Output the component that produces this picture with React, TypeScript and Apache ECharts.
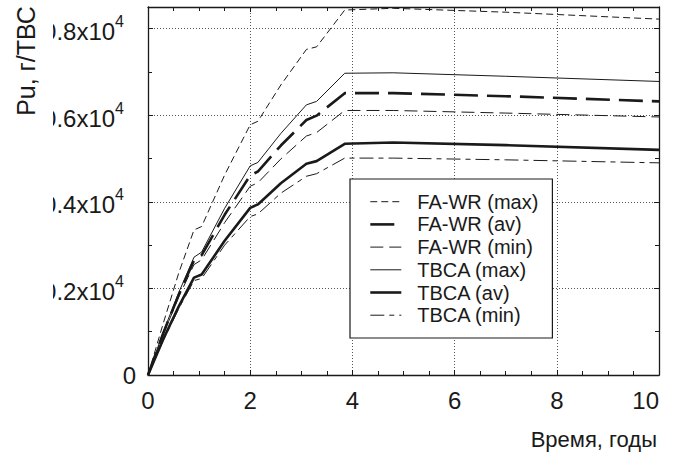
import React, { useEffect, useRef } from 'react';
import * as echarts from 'echarts';

// Time, years
const years = [0, 0.3, 0.6, 0.9, 1.05, 1.5, 2.0, 2.15, 2.6, 3.1, 3.3, 3.85, 4.8, 7, 10];
// Pu, x10^4 g per assembly
const faWrMax = [0, 0.12, 0.235, 0.335, 0.343, 0.462, 0.578, 0.586, 0.67, 0.752, 0.758, 0.843, 0.847, 0.838, 0.822];
const faWrAv = [0, 0.097, 0.185, 0.265, 0.277, 0.37, 0.461, 0.47, 0.53, 0.589, 0.599, 0.651, 0.651, 0.644, 0.632];
const faWrMin = [0, 0.094, 0.18, 0.255, 0.266, 0.352, 0.436, 0.444, 0.499, 0.552, 0.56, 0.611, 0.611, 0.605, 0.596];
const tbcaMax = [0, 0.1, 0.19, 0.272, 0.284, 0.385, 0.483, 0.491, 0.558, 0.624, 0.632, 0.697, 0.698, 0.69, 0.678];
const tbcaAv = [0, 0.083, 0.158, 0.225, 0.232, 0.31, 0.386, 0.394, 0.443, 0.488, 0.494, 0.534, 0.537, 0.531, 0.52];
const tbcaMin = [0, 0.08, 0.153, 0.218, 0.223, 0.3, 0.366, 0.372, 0.42, 0.459, 0.465, 0.501, 0.501, 0.497, 0.49];

const seriesNames = ['FA-WR (max)', 'FA-WR (av)', 'FA-WR (min)', 'TBCA (max)', 'TBCA (av)', 'TBCA (min)'];
const seriesValues = [faWrMax, faWrAv, faWrMin, tbcaMax, tbcaAv, tbcaMin];
const seriesWidths = [1, 2.6, 1, 1, 2.6, 1];
const seriesDash: any[] = [[7, 4], [24, 9], [13, 6], 'solid', 'solid', [14, 5, 5, 5]];

const xTitle = 'Время, годы';
const yTitle = 'Pu, г/ТВС';

const FONT = "'Liberation Sans', Arial, sans-serif";
const INK = '#1a1a1a';

export default function App() {
  const ref = useRef<HTMLDivElement>(null);
  useEffect(() => {
    if (!ref.current) return;
    const chart = echarts.init(ref.current, null, { renderer: 'svg' });
    const boxAxis = {
      axisLine: { show: true, onZero: false, lineStyle: { color: INK, width: 1.3 } },
      axisTick: { show: true, inside: true, length: 5, lineStyle: { color: INK, width: 1 } },
    };
    const grid = { type: [1, 2], color: '#555', width: 1 };
    const option: any = {
      animation: false,
      backgroundColor: '#fff',
      grid: { left: 148, right: 20, top: 7, bottom: 85, containLabel: false },
      xAxis: [
        {
          type: 'value', min: 0, max: 10, interval: 2, position: 'bottom',
          ...boxAxis,
          minorTick: { show: true, splitNumber: 4, length: 4, lineStyle: { color: INK } },
          splitLine: { show: true, lineStyle: grid },
          axisLabel: { fontSize: 24, fontFamily: FONT, color: INK, margin: 13, alignMaxLabel: 'right' },
        },
        {
          type: 'value', min: 0, max: 10, interval: 2, position: 'top',
          ...boxAxis,
          minorTick: { show: true, splitNumber: 4, length: 4, lineStyle: { color: INK } },
          splitLine: { show: false },
          axisLabel: { show: false },
        },
      ],
      yAxis: [
        {
          type: 'value', min: 0, max: 0.85, interval: 0.2, position: 'left',
          ...boxAxis,
          minorTick: { show: true, splitNumber: 2, length: 4, lineStyle: { color: INK } },
          splitLine: { show: true, lineStyle: grid },
          axisLabel: {
            margin: 12,
            formatter: (v: number) => {
              if (v === 0) return '{z|0}';
              if (v > 0.81) return '';
              return `{b|${v.toFixed(1)}x10}{s|4}`;
            },
            rich: {
              z: { fontSize: 24, fontFamily: FONT, color: INK },
              b: { fontSize: 24, fontFamily: FONT, color: INK, verticalAlign: 'bottom', lineHeight: 30 },
              s: { fontSize: 16, fontFamily: FONT, color: INK, verticalAlign: 'top', lineHeight: 30, padding: [0, 12, 0, 0] },
            },
          },
        },
        {
          type: 'value', min: 0, max: 0.85, interval: 0.2, position: 'right',
          ...boxAxis,
          minorTick: { show: true, splitNumber: 2, length: 4, lineStyle: { color: INK } },
          splitLine: { show: false },
          axisLabel: { show: false },
        },
      ],
      legend: {
        data: seriesNames,
        orient: 'vertical',
        left: 350,
        top: 179,
        padding: [12.7, 14, 12.8, 19],
        itemWidth: 31,
        itemHeight: 20,
        itemGap: 2.7,
        selectedMode: false,
        backgroundColor: '#fff',
        borderColor: INK,
        borderWidth: 1.2,
        borderRadius: 0,
        itemStyle: { color: 'rgba(0,0,0,0)', borderWidth: 0, opacity: 0 },
        lineStyle: { width: 'inherit', type: 'inherit', color: 'inherit' },
        textStyle: { fontSize: 20, fontFamily: FONT, color: INK, padding: [0, 0, 0, 11] },
      },
      series: seriesNames.map((name, i) => ({
        name,
        type: 'line',
        xAxisIndex: 0,
        yAxisIndex: 0,
        symbol: 'none',
        showSymbol: false,
        data: years.map((t, j) => [t, seriesValues[i][j]]),
        lineStyle: { color: INK, width: seriesWidths[i], type: seriesDash[i] },
        itemStyle: { color: INK },
        z: 3,
      })),
      graphic: [
        { type: 'rect', shape: { x: 0, y: 0, width: 53, height: 330 }, style: { fill: '#fff' }, z: 100 },
        {
          type: 'text', x: 26, y: 61, rotation: Math.PI / 2, z: 101,
          style: { text: yTitle, fontSize: 25, fontFamily: FONT, fill: INK, align: 'center', verticalAlign: 'middle' },
        },
        {
          type: 'text', right: 22, top: 428, z: 101,
          style: { text: xTitle, fontSize: 22, fontFamily: FONT, fill: INK },
        },
      ],
    };
    chart.setOption(option);
    return () => chart.dispose();
  }, []);
  return <div ref={ref} style={{ width: 679, height: 460, position: 'absolute', left: 0, top: 0 }} />;
}
